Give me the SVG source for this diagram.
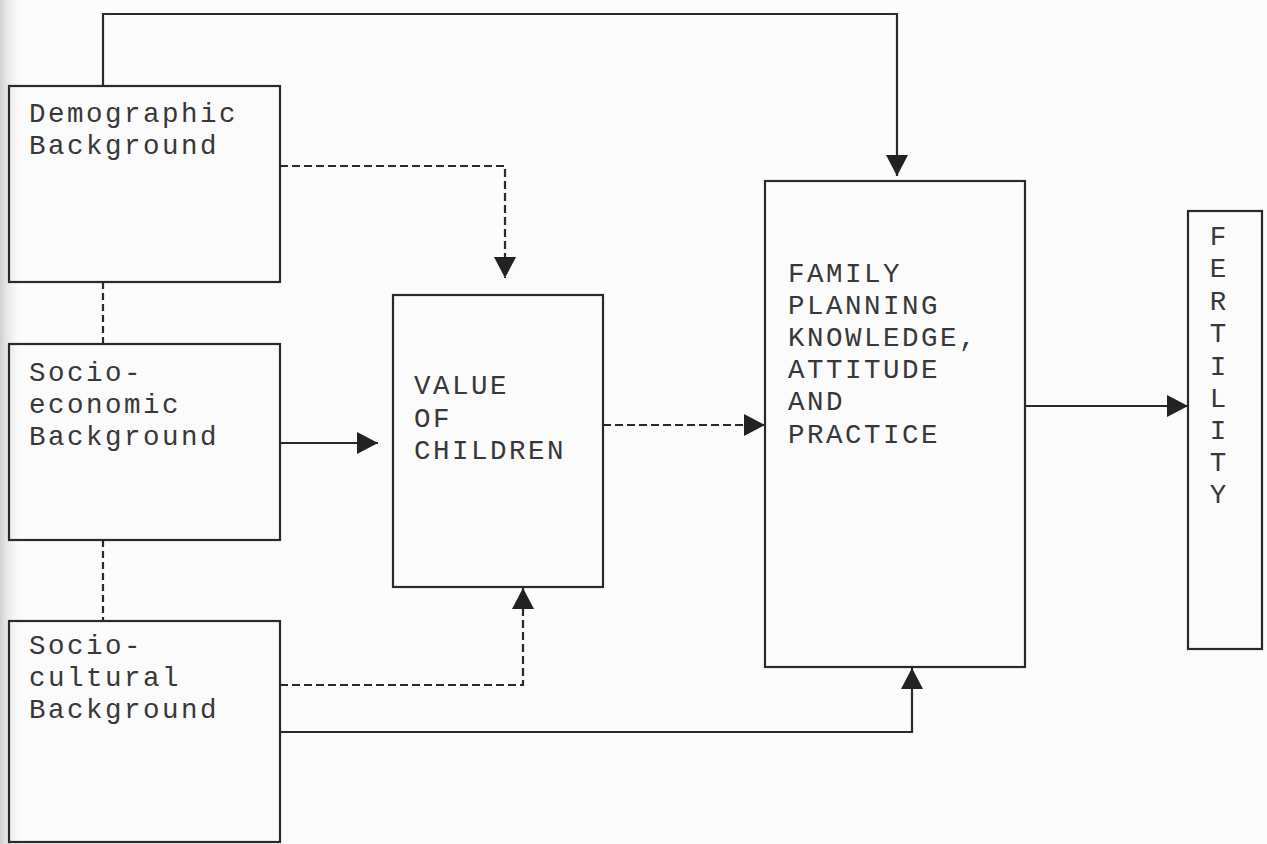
<svg xmlns="http://www.w3.org/2000/svg" width="1267" height="844" viewBox="0 0 1267 844">
  <defs>
    <linearGradient id="edge" x1="0" y1="0" x2="1" y2="0">
      <stop offset="0" stop-color="#cfcfcf"/>
      <stop offset="1" stop-color="#fafafa" stop-opacity="0"/>
    </linearGradient>
    <marker id="arrow" markerUnits="userSpaceOnUse" markerWidth="24" markerHeight="24" refX="21" refY="11" orient="auto" viewBox="0 0 24 24">
      <path d="M0,0 L21,11 L0,22 Z" fill="#222" stroke="none"/>
    </marker>
    <style>
      .box { fill: none; stroke: #2a2a2a; stroke-width: 2.2; }
      .lbl { font-family: "Liberation Mono", "DejaVu Sans Mono", monospace; font-size: 27.5px; letter-spacing: 2.5px; fill: #383838; }
      .solid { fill: none; stroke: #2a2a2a; stroke-width: 2.2; }
      .dash { fill: none; stroke: #2a2a2a; stroke-width: 2.2; stroke-dasharray: 8 4; }
      .vdash { fill: none; stroke: #2a2a2a; stroke-width: 2.2; stroke-dasharray: 7 4; }
    </style>
  </defs>
  <rect x="0" y="0" width="1267" height="844" fill="#fbfbfb"/>
  <rect x="0" y="0" width="22" height="844" fill="url(#edge)"/>

  <g id="connectors">
    <path class="solid" d="M103,86 V14 H897 V176" marker-end="url(#arrow)"/>
    <path class="dash" d="M280,166 H505 V278" marker-end="url(#arrow)"/>
    <path class="vdash" d="M103,282 V344"/>
    <path class="vdash" d="M103,540 V621"/>
    <path class="solid" d="M280,443 H378" marker-end="url(#arrow)"/>
    <path class="dash" d="M603,425 H765" marker-end="url(#arrow)"/>
    <path class="solid" d="M1025,406 H1188" marker-end="url(#arrow)"/>
    <path class="dash" d="M280,685 H523 V588" marker-end="url(#arrow)"/>
    <path class="solid" d="M280,732 H912 V668" marker-end="url(#arrow)"/>
  </g>

  <g id="demographic">
    <rect class="box" x="9" y="86" width="271" height="196"/>
    <text class="lbl" x="29" y="122">Demographic<tspan x="29" y="154">Background</tspan></text>
  </g>

  <g id="socioeconomic">
    <rect class="box" x="9" y="344" width="271" height="196"/>
    <text class="lbl" x="29" y="381">Socio-<tspan x="29" y="413">economic</tspan><tspan x="29" y="445">Background</tspan></text>
  </g>

  <g id="sociocultural">
    <rect class="box" x="9" y="621" width="271" height="221"/>
    <text class="lbl" x="29" y="654">Socio-<tspan x="29" y="686">cultural</tspan><tspan x="29" y="718">Background</tspan></text>
  </g>

  <g id="value">
    <rect class="box" x="393" y="295" width="210" height="292"/>
    <text class="lbl" x="414" y="394">VALUE<tspan x="414" y="427">OF</tspan><tspan x="414" y="459">CHILDREN</tspan></text>
  </g>

  <g id="fpkap">
    <rect class="box" x="765" y="181" width="260" height="486"/>
    <text class="lbl" x="788" y="282">FAMILY<tspan x="788" y="314">PLANNING</tspan><tspan x="788" y="346">KNOWLEDGE,</tspan><tspan x="788" y="378">ATTITUDE</tspan><tspan x="788" y="410">AND</tspan><tspan x="788" y="443">PRACTICE</tspan></text>
  </g>

  <g id="fertility">
    <rect class="box" x="1188" y="211" width="74" height="438"/>
    <text class="lbl" text-anchor="middle" style="letter-spacing:0" x="1218" y="245">F<tspan x="1218" y="277">E</tspan><tspan x="1218" y="310">R</tspan><tspan x="1218" y="342">T</tspan><tspan x="1218" y="375">I</tspan><tspan x="1218" y="407">L</tspan><tspan x="1218" y="439">I</tspan><tspan x="1218" y="471">T</tspan><tspan x="1218" y="503">Y</tspan></text>
  </g>
</svg>
